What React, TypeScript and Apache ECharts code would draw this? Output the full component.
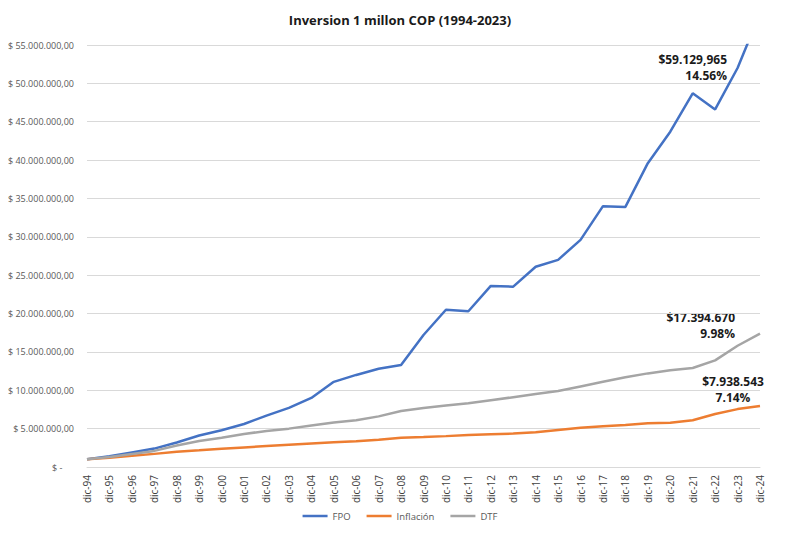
import React, { useEffect, useRef } from "react";
import * as echarts from "echarts";

const categories = [
  "dic-94", "dic-95", "dic-96", "dic-97", "dic-98", "dic-99", "dic-00", "dic-01", "dic-02", "dic-03",
  "dic-04", "dic-05", "dic-06", "dic-07", "dic-08", "dic-09", "dic-10", "dic-11", "dic-12", "dic-13",
  "dic-14", "dic-15", "dic-16", "dic-17", "dic-18", "dic-19", "dic-20", "dic-21", "dic-22", "dic-23", "dic-24",
];

const fpo = [
  1.0, 1.4, 1.9, 2.4, 3.2, 4.1, 4.8, 5.6, 6.7, 7.7,
  9.0, 11.1, 12.0, 12.8, 13.3, 17.2, 20.5, 20.3, 23.6, 23.5,
  26.1, 27.0, 29.6, 34.0, 33.9, 39.6, 43.7, 48.7, 46.6, 52.0, 59.13,
].map((v) => v * 1e6);

const inflacion = [
  1.0, 1.195, 1.453, 1.71, 1.996, 2.179, 2.37, 2.551, 2.729, 2.906,
  3.066, 3.215, 3.359, 3.55, 3.823, 3.9, 4.024, 4.174, 4.276, 4.359,
  4.518, 4.824, 5.101, 5.31, 5.479, 5.687, 5.778, 6.103, 6.904, 7.545, 7.939,
].map((v) => v * 1e6);

const dtf = [
  1.0, 1.3, 1.7, 2.1, 2.8, 3.4, 3.8, 4.3, 4.7, 5.0,
  5.4, 5.8, 6.1, 6.6, 7.3, 7.7, 8.0, 8.3, 8.7, 9.1,
  9.5, 9.9, 10.5, 11.1, 11.7, 12.2, 12.6, 12.9, 13.9, 15.8, 17.39,
].map((v) => v * 1e6);

const annotations = [
  { lines: ["$59.129,965", "14.56%"], x: 727, y: 59, align: "right" },
  { lines: ["$17.394.670", "9.98%"], x: 735, y: 317, align: "right" },
  { lines: ["$7.938.543", "7.14%"], x: 733, y: 381, align: "center" },
];

const FONT = "'Open Sans', 'Noto Sans', sans-serif";

function fmtMoney(v: number): string {
  if (v === 0) return "$ -     ";
  const s = Math.round(v).toString().replace(/\B(?=(\d{3})+(?!\d))/g, ".");
  return "$ " + s + ",00";
}

export default function App() {
  const ref = useRef<HTMLDivElement>(null);
  useEffect(() => {
    if (!ref.current) return;
    const chart = echarts.init(ref.current, undefined, { renderer: "svg" });
    const graphics: any[] = [];
    annotations.forEach((a) => {
      a.lines.forEach((t, i) => {
        graphics.push({
          type: "text",
          x: a.x,
          y: a.y + i * 16,
          style: {
            text: t,
            fill: "#1a1a1a",
            font: `bold 12px ${FONT}`,
            align: a.align,
            verticalAlign: "middle",
          },
        });
      });
    });
    chart.setOption({
      animation: false,
      backgroundColor: "#ffffff",
      title: {
        text: "Inversion 1 millon COP (1994-2023)",
        left: "center",
        top: 8,
        textStyle: { fontFamily: FONT, fontSize: 13, fontWeight: "bold", color: "#1a1a1a" },
      },
      grid: { left: 87, right: 40, top: 45, bottom: 66, containLabel: false },
      legend: {
        bottom: 7,
        left: "center",
        icon: "rect",
        itemWidth: 25,
        itemHeight: 2.5,
        itemGap: 16,
        textStyle: { fontFamily: FONT, fontSize: 9.5, color: "#595959" },
        data: ["FPO", "Inflación", "DTF"],
      },
      xAxis: {
        type: "category",
        data: categories,
        boundaryGap: false,
        axisLine: { show: true, lineStyle: { color: "#d9d9d9" } },
        axisTick: { show: false },
        axisLabel: {
          rotate: 90,
          interval: 0,
          fontFamily: FONT,
          fontSize: 10,
          color: "#404040",
          margin: 8,
        },
      },
      yAxis: {
        type: "value",
        min: 0,
        max: 55000000,
        interval: 5000000,
        axisLine: { show: false },
        axisTick: { show: false },
        splitLine: { lineStyle: { color: "#d9d9d9", width: 1 } },
        axisLabel: {
          formatter: fmtMoney,
          fontFamily: FONT,
          fontSize: 9,
          color: "#595959",
          margin: 13,
        },
      },
      series: [
        { name: "FPO", type: "line", data: fpo, symbol: "none", lineStyle: { width: 2.5, color: "#4472C4" }, itemStyle: { color: "#4472C4" } },
        { name: "Inflación", type: "line", data: inflacion, symbol: "none", lineStyle: { width: 2.5, color: "#ED7D31" }, itemStyle: { color: "#ED7D31" } },
        { name: "DTF", type: "line", data: dtf, symbol: "none", lineStyle: { width: 2.5, color: "#A5A5A5" }, itemStyle: { color: "#A5A5A5" } },
      ],
      graphic: graphics,
    });
    return () => chart.dispose();
  }, []);
  return <div ref={ref} style={{ width: 800, height: 533, position: "absolute", left: 0, top: 0 }} />;
}
